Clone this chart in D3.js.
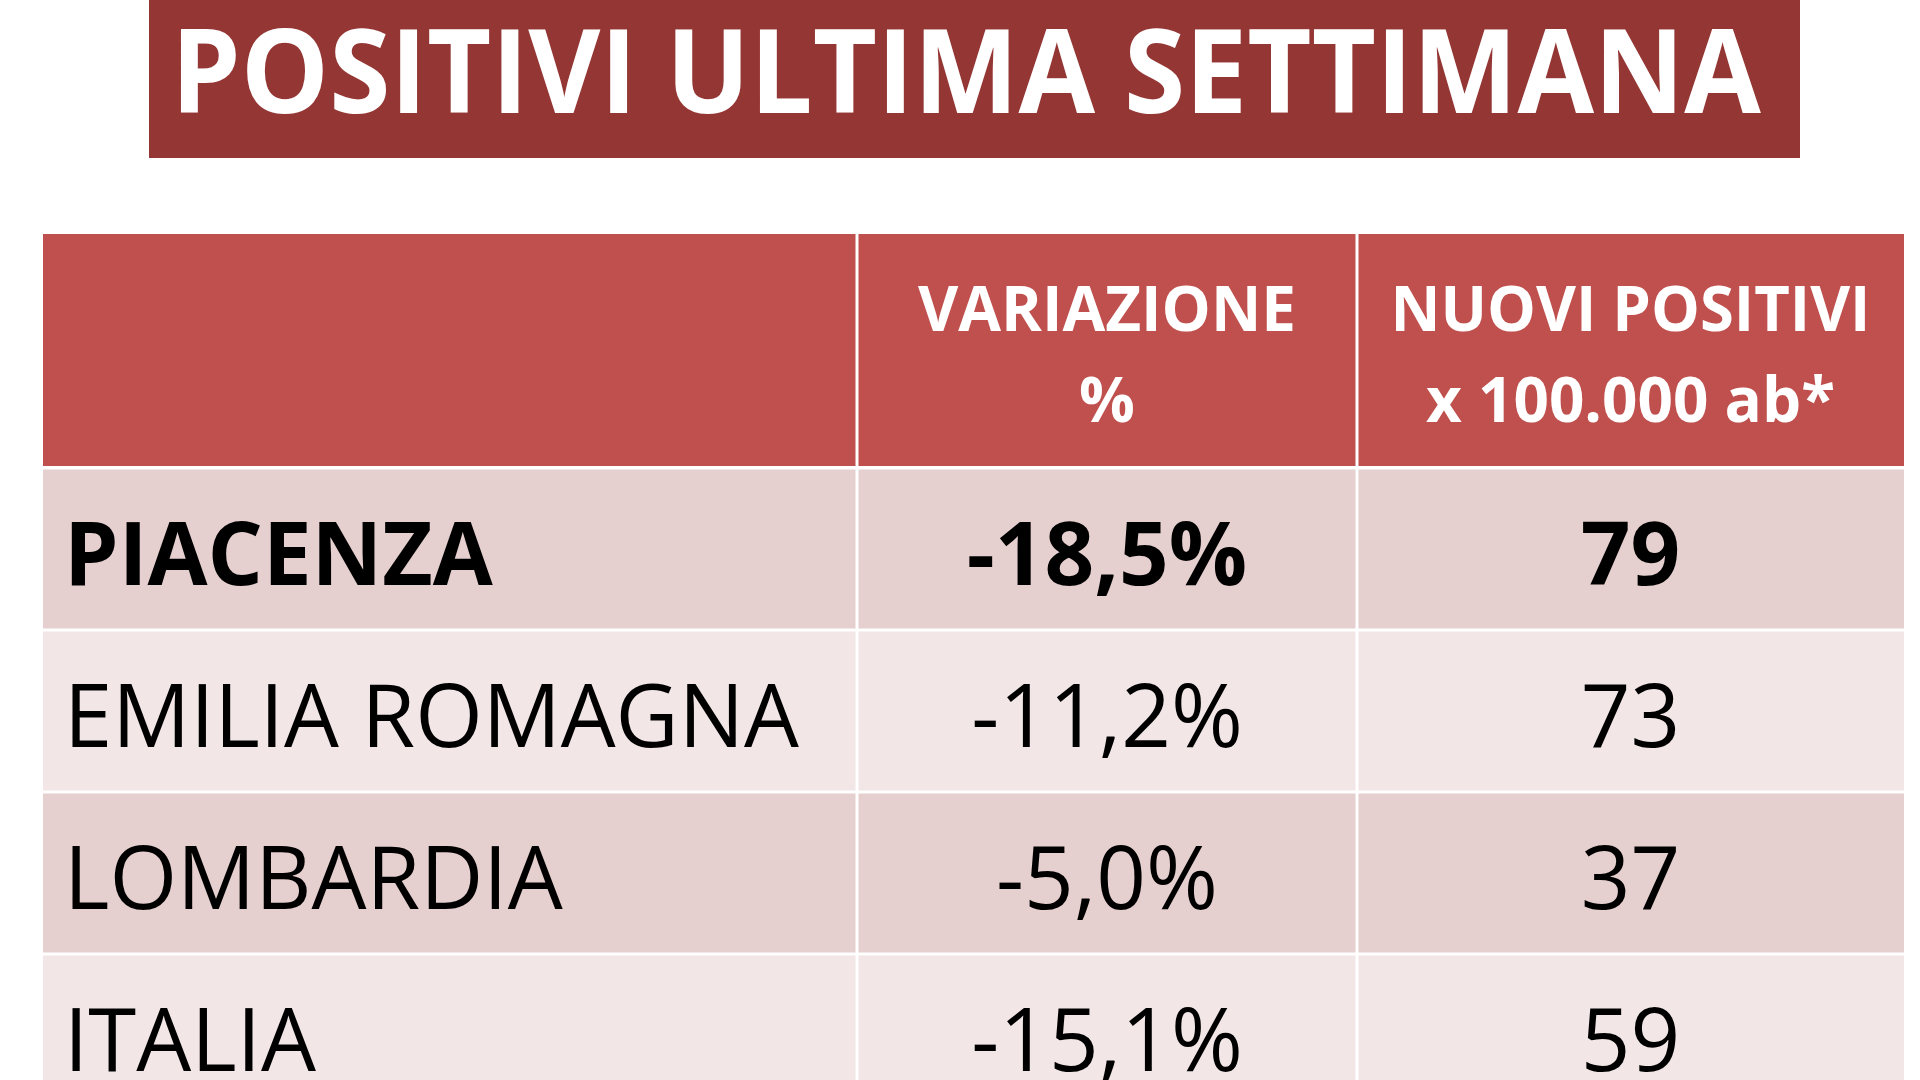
<!DOCTYPE html><html><head><meta charset="utf-8">
<script src="https://cdn.jsdelivr.net/npm/d3@7"></script>
<style>body{margin:0;background:#fff;overflow:hidden}</style></head><body>
<script>
const title = "POSITIVI ULTIMA SETTIMANA";
const headers = [["", ""], ["VARIAZIONE", "%"], ["NUOVI POSITIVI", "x 100.000 ab*"]];
const regions = ["PIACENZA", "EMILIA ROMAGNA", "LOMBARDIA", "ITALIA"];
const variazione = ["-18,5%", "-11,2%", "-5,0%", "-15,1%"];
const nuoviPositivi = [79, 73, 37, 59];

const W = 1920, H = 1080;
const svg = d3.select("body").append("svg").attr("width", W).attr("height", H);
const font = "'Open Sans', sans-serif";
function fit(sel, w){ const n=sel.node(); const l=n.getComputedTextLength(); if(l>w) sel.attr("textLength",w).attr("lengthAdjust","spacingAndGlyphs"); }

svg.append("rect").attr("x",149).attr("y",0).attr("width",1651).attr("height",158).attr("fill","#943634");
const t = svg.append("text").attr("x",966).attr("y",113).attr("text-anchor","middle")
  .attr("font-family",font).attr("font-weight",700).attr("font-size",116).attr("fill","#fff").text(title);
fit(t, 1590);

const colEdges = [43, 857, 1357, 1904];
const rowH = 162, headTop = 234, headH = 234;
const y = d3.scaleBand().domain(regions).range([headTop+headH, headTop+headH+rowH*regions.length]);

for (let c=0;c<3;c++){
  svg.append("rect").attr("x",colEdges[c]+(c?1.5:0)).attr("y",headTop).attr("width",colEdges[c+1]-colEdges[c]-(c?1.5:0)-(c<2?1.5:0)).attr("height",headH-2).attr("fill","#c0504d");
  const cx=(colEdges[c]+colEdges[c+1])/2;
  headers[c].forEach((s,i)=>{
    const tt=svg.append("text").attr("x",cx).attr("y",331+i*91).attr("text-anchor","middle")
     .attr("font-family",font).attr("font-weight",700).attr("font-size",62).attr("fill","#fff").text(s);
    fit(tt, 480);
  });
}
regions.forEach((r,i)=>{
  const fill = i%2===0 ? "#e6cfcf" : "#f2e6e6";
  const bold = i===0;
  const vals=[r, variazione[i], String(nuoviPositivi[i])];
  for (let c=0;c<3;c++){
    svg.append("rect").attr("x",colEdges[c]+(c?1.5:0)).attr("y",y(r)+1.5)
      .attr("width",colEdges[c+1]-colEdges[c]-(c?1.5:0)-(c<2?1.5:0)).attr("height",rowH-3).attr("fill",fill);
    const cx = c===0 ? 64 : (colEdges[c]+colEdges[c+1])/2;
    const tt=svg.append("text").attr("x",cx).attr("y",y(r)+117).attr("text-anchor",c===0?"start":"middle")
      .attr("font-family",font).attr("font-weight",bold?700:400).attr("font-size",87).attr("fill","#000").text(vals[c]);
    if(c===0) fit(tt, 735);
  }
});
</script></body></html>
